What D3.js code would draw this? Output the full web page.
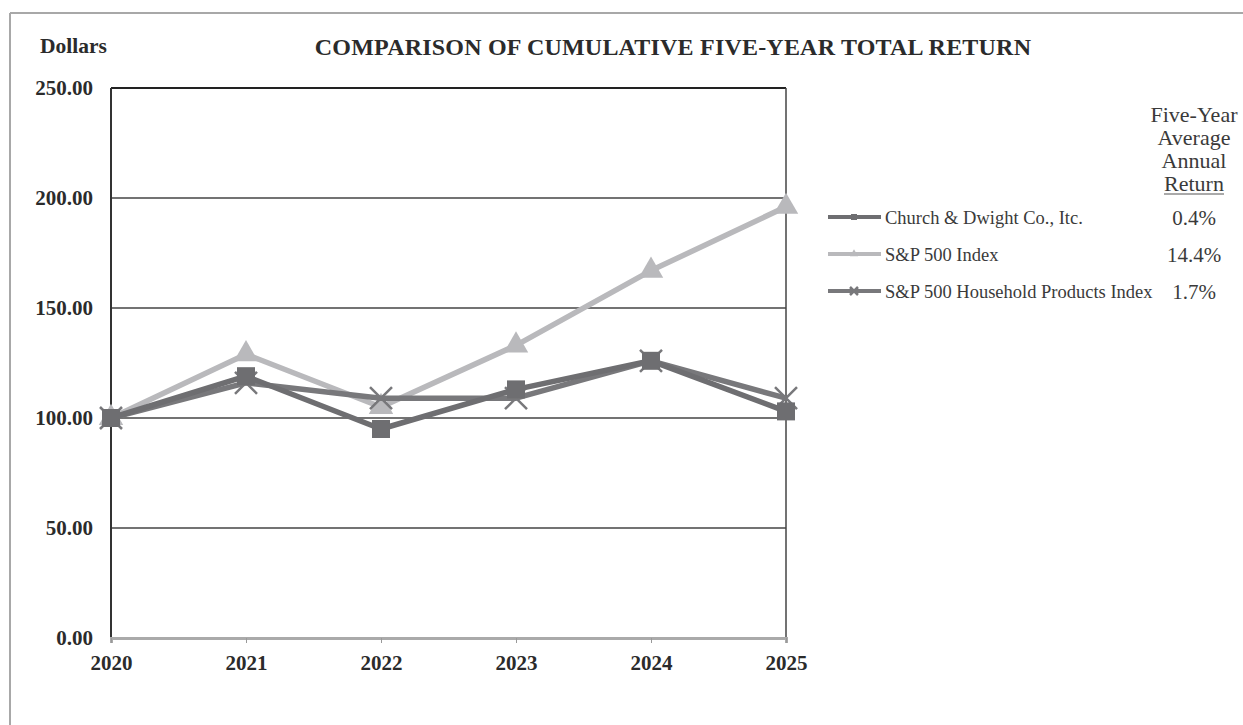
<!DOCTYPE html>
<html><head><meta charset="utf-8">
<script src="https://cdn.jsdelivr.net/npm/d3@7"></script>
<style>body{margin:0;background:#fff}svg{display:block}text{font-family:"Liberation Serif","Times New Roman",serif}</style>
</head><body><svg id="c" width="1243" height="725"></svg>
<script>
const years = [2020, 2021, 2022, 2023, 2024, 2025];
const churchDwight = [100, 119, 95, 113, 126, 103];
const sp500 = [100, 129, 105, 133, 167, 196];
const household = [100, 116, 109, 109, 126, 109];
const seriesNames = ["Church & Dwight Co., Itc.", "S&P 500 Index", "S&P 500 Household Products Index"];
const avgReturns = ["0.4%", "14.4%", "1.7%"];
const yTicks = [0, 50, 100, 150, 200, 250];

const svg = d3.select("#c");
const colors = ["#6e6e71", "#b9b9bc", "#78787b"];
const marks = ["square", "triangle", "cross"];
const series = [churchDwight, sp500, household];
const ink = "#2b2b2b";

// frame
svg.append("line").attr("x1",10).attr("x2",1243).attr("y1",13).attr("y2",13).attr("stroke","#a8a8a8").attr("stroke-width",2);
svg.append("line").attr("x1",10).attr("x2",10).attr("y1",13).attr("y2",725).attr("stroke","#a8a8a8").attr("stroke-width",2);

const x = d3.scalePoint().domain(years).range([111, 786]);
const y = d3.scaleLinear().domain([0, 250]).range([638, 88]);

// gridlines
svg.append("g").selectAll("line").data(yTicks.filter(t=>t>0)).join("line")
  .attr("x1",111).attr("x2",786).attr("y1",d=>y(d)).attr("y2",d=>y(d))
  .attr("stroke",d=>d===250?"#222":"#444").attr("stroke-width",d=>d===250?2:1.5);
// vertical borders
svg.append("line").attr("x1",111).attr("x2",111).attr("y1",88).attr("y2",638).attr("stroke","#333").attr("stroke-width",2);
svg.append("line").attr("x1",786).attr("x2",786).attr("y1",88).attr("y2",638).attr("stroke","#444").attr("stroke-width",1.5);

// y axis labels
const yAxis = d3.axisLeft(y).tickValues(yTicks).tickFormat(d3.format(".2f")).tickSize(0).tickPadding(18);
const gy = svg.append("g").attr("transform","translate(111,0)").call(yAxis);
gy.select(".domain").remove();
gy.selectAll("text").attr("font-weight","bold").attr("font-size",21).attr("fill",ink).attr("dy","0.3em");

// x axis
const xAxis = d3.axisBottom(x).tickSize(5).tickPadding(12).tickFormat(d3.format("d"));
const gx = svg.append("g").attr("transform","translate(0,638)").call(xAxis);
gx.select(".domain").attr("stroke","#aaa").attr("stroke-width",3);
gx.selectAll(".tick line").attr("stroke","#999");
gx.selectAll("text").attr("font-weight","bold").attr("font-size",21).attr("fill",ink);

// titles
svg.append("text").attr("x",40).attr("y",53).attr("font-weight","bold").attr("font-size",21.5).attr("fill",ink).text("Dollars");
svg.append("text").attr("x",673).attr("y",55).attr("text-anchor","middle").attr("font-weight","bold").attr("font-size",24).attr("letter-spacing",0.2).attr("fill",ink).text("COMPARISON OF CUMULATIVE FIVE-YEAR TOTAL RETURN");

function marker(g, type, cx, cy, color, s) {
  if (type==="square") g.append("rect").attr("x",cx-s).attr("y",cy-s).attr("width",2*s).attr("height",2*s).attr("fill",color);
  else if (type==="triangle") g.append("path").attr("d",d3.symbol(d3.symbolTriangle, s*s*3.2)()).attr("transform",`translate(${cx},${cy})`).attr("fill",color);
  else g.append("path").attr("d",`M${cx-s},${cy-s}L${cx+s},${cy+s}M${cx-s},${cy+s}L${cx+s},${cy-s}`).attr("stroke",color).attr("stroke-width",2.5);
}

const line = d3.line().x((d,i)=>x(years[i])).y(d=>y(d));
const order = [1, 2, 0];
order.forEach(k=>{
  const g = svg.append("g");
  g.append("path").datum(series[k]).attr("d",line).attr("fill","none").attr("stroke",colors[k]).attr("stroke-width",5.5).attr("stroke-linejoin","round");
  series[k].forEach((v,i)=>marker(g, marks[k], x(years[i]), y(v), colors[k], k===2?11:9));
});

// legend header
const hdr = ["Five-Year","Average","Annual","Return"];
hdr.forEach((t,i)=>{
  svg.append("text").attr("x",1194).attr("y",122+i*23).attr("text-anchor","middle").attr("font-size",22).attr("fill","#3a3a3a").text(t);
});
svg.append("line").attr("x1",1164).attr("x2",1224).attr("y1",194).attr("y2",194).attr("stroke","#555").attr("stroke-width",1.2);

seriesNames.forEach((n,i)=>{
  const ly = 217 + i*37;
  svg.append("line").attr("x1",828).attr("x2",881).attr("y1",ly).attr("y2",ly).attr("stroke",colors[i]).attr("stroke-width",4);
  const g = svg.append("g");
  marker(g, marks[i], 854, ly, colors[i], i===2?4:3);
  svg.append("text").attr("x",885).attr("y",ly+7).attr("font-size",18.5).attr("fill","#3a3a3a").text(n);
  svg.append("text").attr("x",1194).attr("y",ly+8).attr("text-anchor","middle").attr("font-size",21).attr("fill","#3a3a3a").text(avgReturns[i]);
});
</script></body></html>
